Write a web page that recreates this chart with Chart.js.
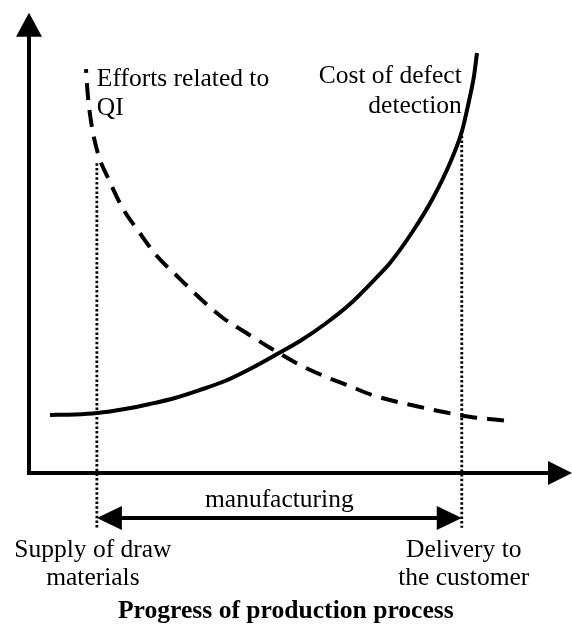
<!DOCTYPE html>
<html>
  <head>
    <title>Progress of production process</title>
    <script src="https://cdn.jsdelivr.net/npm/chart.js"></script>
    <style>
      body {
        margin: 0;
        background: #ffffff;
      }

      .chart-container {
        width: 572px;
        height: 626px;
      }
    </style>
  </head>
  <body>
    <div class="chart-container">
      <canvas id="myChart"></canvas>
    </div>

    <script>
      // cost of defect detection (solid curve)
      const costX = [3.87, 8.47, 12.52, 17.68, 22.28, 26.89, 31.49, 36.1, 40.7, 46.04, 49.91, 54.51, 59.12, 63.72, 66.48, 70.72, 74.4, 77.53, 79.74, 81.03, 81.95, 82.5];
      const costY = [12.26, 12.37, 12.68, 13.53, 14.59, 15.86, 17.55, 19.45, 21.99, 25.37, 27.91, 31.5, 35.73, 41.01, 44.4, 51.16, 58.14, 65.54, 72.3, 78.65, 83.93, 88.79];

      // efforts related to QI (dashed curve)
      const effortX = [10.5, 10.77, 11.33, 12.62, 14.73, 17.13, 20.26, 23.39, 27.44, 32.04, 35.73, 40.33, 44.75, 49.91, 54.7, 58.56, 63.17, 72.01, 75.87, 81.4, 86.56, 88.21];
      const effortY = [85.41, 80.76, 75.05, 67.86, 61.95, 56.24, 50.95, 46.09, 41.44, 36.36, 32.77, 29.39, 26.22, 22.83, 20.3, 18.6, 16.49, 13.95, 13.0, 11.84, 11.21, 10.99];

      // stages of the process on the x axis
      const stageX = [12.5, 79.7];
      const stageTop = [65.5, 72.3];
      const stageLabels = [
        ["Supply of draw", "materials"],
        ["Delivery to", "the customer"],
      ];
      const seriesLabels = [
        ["Cost of defect", "detection"],
        ["Efforts related to", "QI"],
      ];
      const spanLabel = "manufacturing";
      const xTitle = "Progress of production process";

      // value range of the sketch (axes cross at 0,0)
      const guideBottom = -11.6;
      const spanY = -9.5;
      const yAxisTop = 97.3;
      const xAxisEnd = 100;

      const toPoints = (xs, ys) => xs.map((v, i) => ({ x: v, y: ys[i] }));

      function arrowHead(ctx, tx, ty, dx, dy, len, half) {
        const bx = tx - dx * len;
        const by = ty - dy * len;
        ctx.beginPath();
        ctx.moveTo(tx, ty);
        ctx.lineTo(bx - dy * half, by + dx * half);
        ctx.lineTo(bx + dy * half, by - dx * half);
        ctx.closePath();
        ctx.fill();
      }

      const sketch = {
        id: "sketch",
        afterDatasetsDraw(chart) {
          const ctx = chart.ctx;
          const xs = chart.scales.x;
          const ys = chart.scales.y;
          const px = (v) => xs.getPixelForValue(v);
          const py = (v) => ys.getPixelForValue(v);

          ctx.save();
          ctx.strokeStyle = "#000";
          ctx.fillStyle = "#000";

          // axes
          ctx.lineWidth = 4;
          ctx.lineJoin = "miter";
          ctx.beginPath();
          ctx.moveTo(px(0), py(yAxisTop) + 20);
          ctx.lineTo(px(0), py(0));
          ctx.lineTo(px(xAxisEnd) - 20, py(0));
          ctx.stroke();
          arrowHead(ctx, px(0), py(yAxisTop), 0, -1, 24, 13);
          arrowHead(ctx, px(xAxisEnd), py(0), 1, 0, 24, 12);

          // manufacturing span arrow heads
          arrowHead(ctx, px(stageX[0]), py(spanY), -1, 0, 25, 12);
          arrowHead(ctx, px(stageX[1]), py(spanY), 1, 0, 25, 12);

          // texts
          const lh = 30;
          ctx.font = "25.5px 'Liberation Serif', 'Times New Roman', serif";
          ctx.textBaseline = "alphabetic";

          ctx.textAlign = "right";
          seriesLabels[0].forEach((t, i) => ctx.fillText(t, px(stageX[1]), py(82.5) + i * lh));
          ctx.textAlign = "left";
          seriesLabels[1].forEach((t, i) => ctx.fillText(t, px(stageX[0]), py(81.8) + i * (lh - 1)));

          ctx.textAlign = "center";
          ctx.fillText(spanLabel, (px(stageX[0]) + px(stageX[1])) / 2, py(-7.2));
          const labelShift = [-4, 2];
          stageLabels.forEach((lines, s) => {
            lines.forEach((t, i) => ctx.fillText(t, px(stageX[s]) + labelShift[s], py(-17.8) + i * 28));
          });

          ctx.font = "bold 25.6px 'Liberation Serif', 'Times New Roman', serif";
          ctx.fillText(xTitle, px(47.3), py(-30.7));
          ctx.restore();
        },
      };

      const guide = (s) => ({
        data: [
          { x: stageX[s], y: stageTop[s] },
          { x: stageX[s], y: guideBottom },
        ],
        borderColor: "#000",
        borderWidth: 2.8,
        borderDash: [2.5, 2.2],
        tension: 0,
      });

      const ctx = document.getElementById("myChart").getContext("2d");
      new Chart(ctx, {
        type: "line",
        data: {
          datasets: [
            {
              label: seriesLabels[0].join(" "),
              data: toPoints(costX, costY),
              borderColor: "#000",
              borderWidth: 4,
              cubicInterpolationMode: "monotone",
            },
            {
              label: seriesLabels[1].join(" "),
              data: toPoints(effortX, effortY),
              borderColor: "#000",
              borderWidth: 4,
              borderDash: [17, 10],
              borderDashOffset: 13,
              cubicInterpolationMode: "monotone",
            },
            guide(0),
            guide(1),
            {
              label: spanLabel,
              data: [
                { x: stageX[0] + 2, y: spanY },
                { x: stageX[1] - 2, y: spanY },
              ],
              borderColor: "#000",
              borderWidth: 4,
            },
          ],
        },
        options: {
          responsive: true,
          maintainAspectRatio: false,
          animation: false,
          events: [],
          layout: { padding: 0 },
          elements: { point: { radius: 0 } },
          plugins: {
            legend: { display: false },
            tooltip: { enabled: false },
          },
          scales: {
            x: { type: "linear", min: -5.34, max: 100, display: false },
            y: { type: "linear", min: -32.35, max: 100, display: false },
          },
        },
        plugins: [sketch],
      });
    </script>
  </body>
</html>
